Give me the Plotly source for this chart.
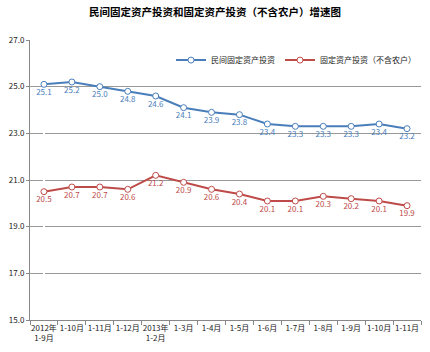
import plotly.graph_objects as go

categories = ["2012年<br>1-9月", "1-10月", "1-11月", "1-12月", "2013年<br>1-2月", "1-3月", "1-4月",
              "1-5月", "1-6月", "1-7月", "1-8月", "1-9月", "1-10月", "1-11月"]
private_inv = [25.1, 25.2, 25.0, 24.8, 24.6, 24.1, 23.9, 23.8, 23.4, 23.3, 23.3, 23.3, 23.4, 23.2]
fixed_inv = [20.5, 20.7, 20.7, 20.6, 21.2, 20.9, 20.6, 20.4, 20.1, 20.1, 20.3, 20.2, 20.1, 19.9]

blue = "#4a7ebb"
red = "#be4b48"
font = "Noto Sans CJK SC"

fig = go.Figure()
for name, vals, col in [("民间固定资产投资", private_inv, blue),
                        ("固定资产投资（不含农户）", fixed_inv, red)]:
    fig.add_trace(go.Scatter(
        x=list(range(len(categories))), y=vals, name=name,
        mode="lines+markers+text",
        line=dict(color=col, width=2),
        marker=dict(symbol="circle", size=6, color="white", line=dict(color=col, width=1)),
        text=[f"{v:.1f}" for v in vals], textposition="bottom center",
        textfont=dict(size=8, color=col, family=font),
        cliponaxis=False,
    ))

n = len(categories)
fig.update_layout(
    width=430, height=352,
    margin=dict(l=27, r=9, t=40, b=28),
    paper_bgcolor="white", plot_bgcolor="white",
    title=dict(text="<b>民间固定资产投资和固定资产投资（不含农户）增速图</b>",
               x=0.5, xanchor="center", y=0.975, yanchor="top",
               font=dict(size=10.5, color="#000", family=font)),
    legend=dict(orientation="h", x=1.0, xanchor="right", y=0.98, yanchor="top",
                font=dict(size=8, color="#222", family=font), bgcolor="rgba(0,0,0,0)",
                itemwidth=30, tracegroupgap=0),
    showlegend=True,
    font=dict(family=font),
)
fig.update_xaxes(
    tickmode="array", tickvals=list(range(n)), ticktext=categories,
    range=[-0.5, n - 0.5],
    showgrid=False, showline=True, linecolor="#888", linewidth=1,
    ticks="", tickfont=dict(size=8, color="#222", family=font),
    minor=dict(tickmode="array", tickvals=[i - 0.5 for i in range(n + 1)],
               ticks="outside", ticklen=4, tickcolor="#888", showgrid=False),
)
fig.update_yaxes(
    range=[15, 27], dtick=2, tick0=15, tickformat=".1f",
    showgrid=True, gridcolor="#999", gridwidth=1,
    showline=True, linecolor="#888", linewidth=1,
    ticks="outside", ticklen=3, tickcolor="#888",
    tickfont=dict(size=8, color="#222", family=font),
    zeroline=False,
)
fig.write_html("out.html")
